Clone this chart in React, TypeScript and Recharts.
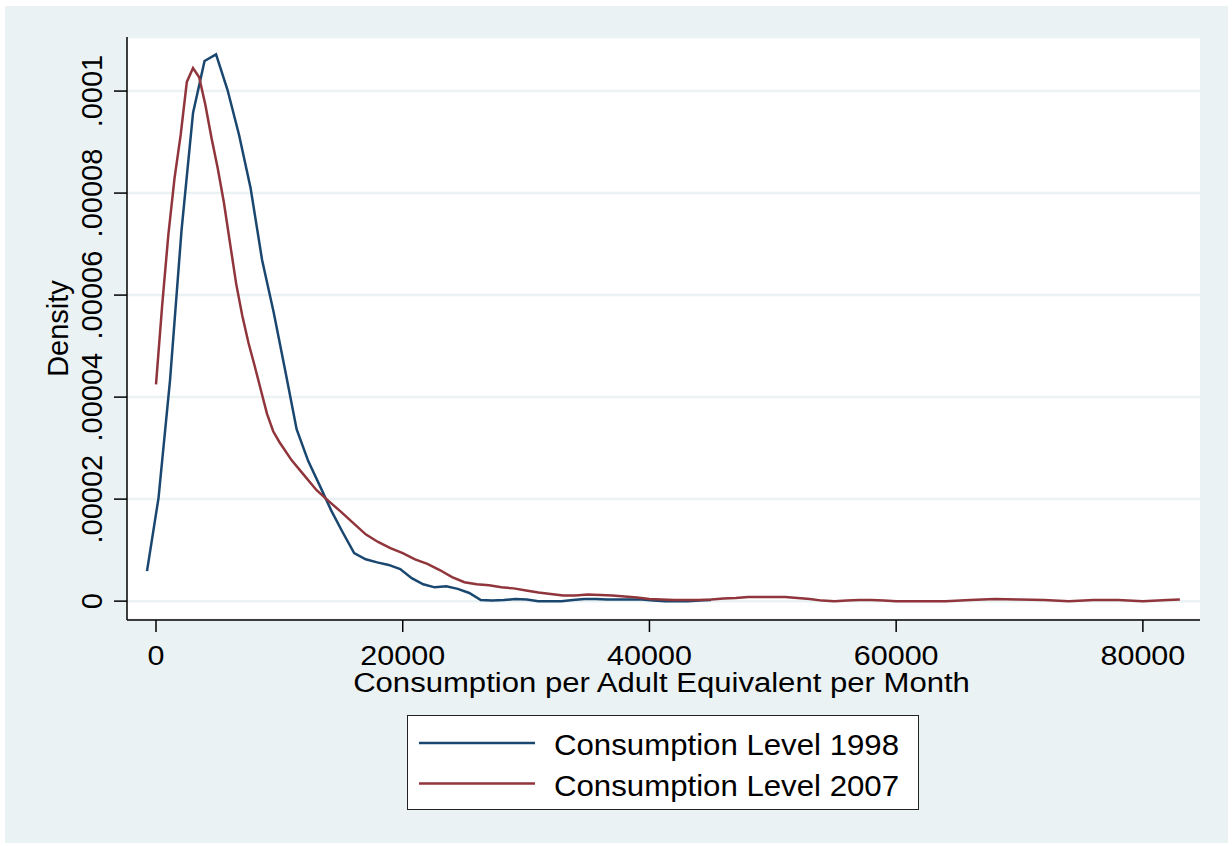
import { LineChart, Line, XAxis, YAxis, CartesianGrid, Label } from "recharts";

const FONT = '"Liberation Sans", Arial, Helvetica, sans-serif';

// 1998 kernel density (evaluation points and density)
const X_1998 = [
  -730, 203, 1136, 2069, 3002, 3935, 4868, 5801, 6734, 7667, 8600, 9533, 10466,
  11399, 12332, 13265, 14198, 15131, 16064, 16997, 17930, 18863, 19796, 20729,
  21662, 22595, 23528, 24461, 25394, 26327, 27260, 28193, 29126, 30059, 30992,
  31925, 32858, 33791, 34724, 35657, 36590, 37523, 38456, 39389, 40322, 41255,
  42188, 43121, 44054, 44987,
];
const Y_1998 = [
  5.88e-6, 2.02e-5, 4.33e-5, 7.27e-5, 9.57e-5, 1.059e-4, 1.072e-4, 1.002e-4,
  9.14e-5, 8.1e-5, 6.69e-5, 5.67e-5, 4.53e-5, 3.37e-5, 2.75e-5, 2.27e-5,
  1.78e-5, 1.35e-5, 9.4e-6, 8.2e-6, 7.6e-6, 7.1e-6, 6.3e-6, 4.5e-6, 3.3e-6,
  2.7e-6, 2.9e-6, 2.4e-6, 1.6e-6, 2e-7, 1e-7, 2e-7, 4e-7, 3e-7, 0, 0, 0, 2e-7,
  4e-7, 4e-7, 3e-7, 3e-7, 3e-7, 3e-7, 1e-7, 0, 0, 0, 1e-7, 2e-7,
];

// 2007 kernel density
const X_2007 = [
  0, 500, 1000, 1500, 2000, 2500, 3000, 3500, 4000, 4500, 5000, 5500, 6000,
  6500, 7000, 7500, 8000, 8500, 9000, 9500, 10000, 11000, 12000, 13000, 14000,
  15000, 16000, 17000, 18000, 19000, 20000, 21000, 22000, 23000, 24000, 25000,
  26000, 27000, 28000, 29000, 30000, 31000, 32000, 33000, 34000, 35000, 36000,
  37000, 38000, 39000, 40000, 41000, 42000, 43000, 44000, 45000, 46000, 47000,
  48000, 49000, 50000, 51000, 52000, 53000, 54000, 55000, 56000, 57000, 58000,
  59000, 60000, 62000, 64000, 66000, 68000, 70000, 72000, 74000, 76000, 78000,
  80000, 82000, 83000,
];
const Y_2007 = [
  4.25e-5, 5.8e-5, 7.18e-5, 8.29e-5, 9.14e-5, 1.018e-4, 1.045e-4, 1.027e-4,
  9.73e-5, 9.08e-5, 8.49e-5, 7.82e-5, 7.02e-5, 6.22e-5, 5.59e-5, 5.06e-5,
  4.61e-5, 4.14e-5, 3.67e-5, 3.33e-5, 3.12e-5, 2.76e-5, 2.47e-5, 2.18e-5,
  1.96e-5, 1.75e-5, 1.53e-5, 1.31e-5, 1.16e-5, 1.04e-5, 9.4e-6, 8.2e-6, 7.3e-6,
  6.1e-6, 4.7e-6, 3.7e-6, 3.3e-6, 3.1e-6, 2.7e-6, 2.5e-6, 2.1e-6, 1.7e-6,
  1.4e-6, 1.1e-6, 1.1e-6, 1.3e-6, 1.2e-6, 1.1e-6, 9e-7, 7e-7, 4e-7, 3e-7,
  2e-7, 2e-7, 2e-7, 3e-7, 5e-7, 6e-7, 8e-7, 8e-7, 8e-7, 8e-7, 6e-7, 4e-7,
  1e-7, 0, 1e-7, 2e-7, 2e-7, 1e-7, 0, 0, 0, 2e-7, 4e-7, 3e-7, 2e-7, 0, 2e-7,
  2e-7, 0, 2e-7, 3e-7,
];

const X_TICKS = [0, 20000, 40000, 60000, 80000];
const Y_TICKS = [0, 0.00002, 0.00004, 0.00006, 0.00008, 0.0001];
const Y_TICK_LABELS = ["0", ".00002", ".00004", ".00006", ".00008", ".0001"];

const SERIES = [
  { key: "y1998", name: "Consumption Level 1998", color: "#1a476f" },
  { key: "y2007", name: "Consumption Level 2007", color: "#90353b" },
];

// merge both series into one table keyed by x
const rows: Record<number, { x: number; y1998?: number; y2007?: number }> = {};
X_1998.forEach((x, i) => {
  rows[x] = { ...(rows[x] || { x }), y1998: Y_1998[i] };
});
X_2007.forEach((x, i) => {
  rows[x] = { ...(rows[x] || { x }), y2007: Y_2007[i] };
});
const data = Object.values(rows).sort((a, b) => a.x - b.x);

function XTick({ x, payload }: any) {
  return (
    <text
      transform={`translate(${x},665) scale(1.09,1)`}
      textAnchor="middle"
      fontSize={28}
      fontFamily={FONT}
      fill="#000"
    >
      {payload.value}
    </text>
  );
}

function YTick({ y, payload }: any) {
  const label = Y_TICK_LABELS[Y_TICKS.indexOf(payload.value)];
  return (
    <text
      transform={`translate(102,${y}) rotate(-90)`}
      textAnchor="middle"
      fontSize={29}
      fontFamily={FONT}
      fill="#000"
    >
      {label}
    </text>
  );
}

export default function App() {
  return (
    <div
      style={{
        position: "absolute",
        left: 0,
        top: 0,
        width: 1232,
        height: 846,
        background: "#fff",
      }}
    >
      <div
        style={{
          position: "absolute",
          left: 5,
          top: 6,
          width: 1223,
          height: 837,
          background: "#eaf2f3",
        }}
      />
      <div style={{ position: "absolute", left: 0, top: 0 }}>
        <LineChart
          width={1232}
          height={846}
          data={data}
          margin={{ top: 37, right: 32, bottom: 146, left: 0 }}
        >
          <CartesianGrid
            vertical={false}
            stroke="#eaf2f3"
            strokeWidth={2.5}
            fill="#ffffff"
            fillOpacity={1}
          />
          <XAxis
            dataKey="x"
            type="number"
            domain={[-2351, 84630]}
            ticks={X_TICKS}
            allowDataOverflow
            height={80}
            tickSize={12}
            tickLine={{ stroke: "#000", strokeWidth: 1.5 }}
            axisLine={{ stroke: "#000", strokeWidth: 1.5 }}
            tick={<XTick />}
            interval={0}
          >
            <Label
              content={({ viewBox }: any) => (
                <text
                  transform={`translate(${viewBox.x + viewBox.width / 2 - 2},692) scale(1.11,1)`}
                  textAnchor="middle"
                  fontSize={28}
                  fontFamily={FONT}
                  fill="#000"
                >
                  Consumption per Adult Equivalent per Month
                </text>
              )}
            />
          </XAxis>
          <YAxis
            type="number"
            domain={[-0.0000037, 0.0001106]}
            ticks={Y_TICKS}
            allowDataOverflow
            width={127}
            tickSize={13}
            tickLine={{ stroke: "#000", strokeWidth: 1.5 }}
            axisLine={{ stroke: "#000", strokeWidth: 1.5 }}
            tick={<YTick />}
            interval={0}
          >
            <Label
              content={({ viewBox }: any) => (
                <text
                  transform={`translate(68,${viewBox.y + viewBox.height / 2}) rotate(-90)`}
                  textAnchor="middle"
                  fontSize={29}
                  fontFamily={FONT}
                  fill="#000"
                >
                  Density
                </text>
              )}
            />
          </YAxis>
          {SERIES.map((s) => (
            <Line
              key={s.key}
              type="linear"
              dataKey={s.key}
              name={s.name}
              stroke={s.color}
              strokeWidth={2.5}
              dot={false}
              connectNulls
              isAnimationActive={false}
            />
          ))}
        </LineChart>
      </div>

      {/* Legend */}
      <div
        style={{
          position: "absolute",
          left: 407,
          top: 715,
          width: 512,
          height: 95,
          boxSizing: "border-box",
          border: "1.5px solid #222",
          background: "#fff",
        }}
      >
        <svg width={512} height={95} style={{ position: "absolute", left: -1.5, top: -1.5 }}>
          {SERIES.map((s, i) => (
            <g key={s.key}>
              <line
                x1={12}
                x2={128}
                y1={28 + i * 40.5}
                y2={28 + i * 40.5}
                stroke={s.color}
                strokeWidth={2.5}
              />
              <text
                transform={`translate(147,${39.5 + i * 41}) scale(1.04,1)`}
                fontSize={30}
                fontFamily={FONT}
                fill="#000"
              >
                {s.name}
              </text>
            </g>
          ))}
        </svg>
      </div>
    </div>
  );
}
